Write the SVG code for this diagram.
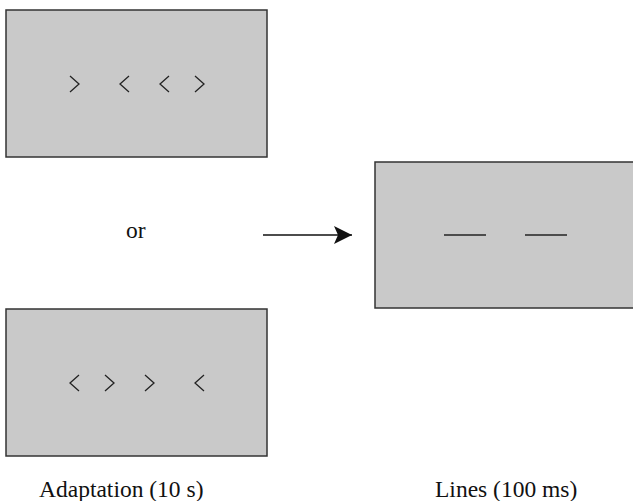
<svg xmlns="http://www.w3.org/2000/svg" width="633" height="501" viewBox="0 0 633 501">
<defs>
<style>
.box{fill:#c9c9c9;stroke:#333;stroke-width:1.5}
.chev{fill:none;stroke:#222;stroke-width:1.3}
.ln{stroke:#222;stroke-width:1.6}
.t{font-family:"Liberation Serif","Times New Roman",serif;font-size:23.5px;fill:#111}
</style>
<marker id="ah" markerWidth="20" markerHeight="18" refX="18" refY="9" orient="auto" markerUnits="userSpaceOnUse">
<path d="M0,0 L18,9 L0,18 L4,9 Z" fill="#111"/>
</marker>
</defs>
<g id="adapt1">
<rect class="box" x="6" y="10" width="261" height="147"/>
<polyline class="chev" points="70,76 79,84 70,92"/>
<polyline class="chev" points="129,76 120,84 129,92"/>
<polyline class="chev" points="169,76 160,84 169,92"/>
<polyline class="chev" points="195,76 204,84 195,92"/>
</g>
<g id="adapt2">
<rect class="box" x="6" y="309" width="261" height="147"/>
<polyline class="chev" points="79,375 70,383 79,391"/>
<polyline class="chev" points="105,375 114,383 105,391"/>
<polyline class="chev" points="145,375 154,383 145,391"/>
<polyline class="chev" points="204,375 195,383 204,391"/>
</g>
<g id="or"><text class="t" x="126" y="238">or</text></g>
<g id="lines">
<rect class="box" x="375" y="162" width="270" height="146"/>
<line class="ln" x1="444" y1="235" x2="486" y2="235"/>
<line class="ln" x1="525" y1="235" x2="567" y2="235"/>
</g>
<g id="connectors">
<line x1="263" y1="235" x2="352" y2="235" stroke="#111" stroke-width="1.3" marker-end="url(#ah)"/>
</g>
<g id="labels">
<text class="t" x="39" y="497">Adaptation (10 s)</text>
<text class="t" x="435" y="497">Lines (100 ms)</text>
</g>
</svg>
